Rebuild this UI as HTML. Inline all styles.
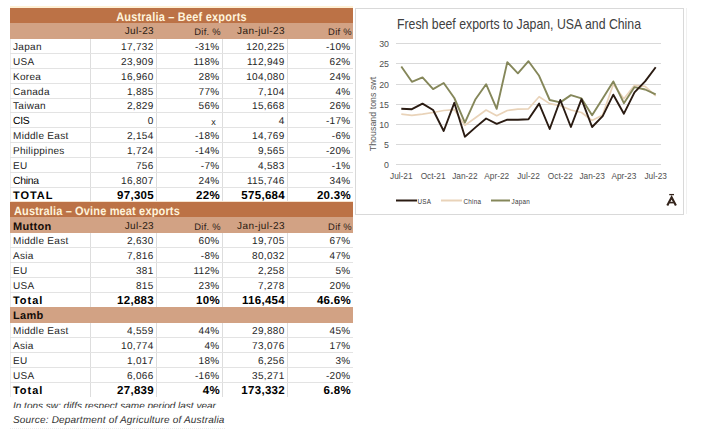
<!DOCTYPE html>
<html><head><meta charset="utf-8"><style>
html,body{margin:0;padding:0}
body{width:706px;height:445px;position:relative;overflow:hidden;background:#fff;font-family:"Liberation Sans",sans-serif}
.t{position:absolute;font-size:10px;line-height:12px;letter-spacing:0.3px;color:#1e1e1e;white-space:nowrap;text-rendering:geometricPrecision}
.c{position:absolute;white-space:nowrap}
</style></head><body>
<div style="position:absolute;left:10px;top:39px;width:1px;height:358px;background:#ececec;"></div>
<div style="position:absolute;left:10px;top:6px;width:343px;height:2px;background:#fff1d6;"></div>
<div style="position:absolute;left:10px;top:8px;width:343px;height:15px;background:#bc7246;"></div>
<div class="t" style="left:10px;top:11px;width:343px;text-align:center;font-weight:bold;font-size:11px;letter-spacing:0.13px;letter-spacing:0.2px;color:#fff4dc;transform:scaleY(1.13);transform-origin:0 2px;">Australia &#8211; Beef exports</div>
<div style="position:absolute;left:10px;top:23px;width:343px;height:16px;background:#d2a284;"></div>
<div class="t" style="left:90px;top:26px;width:64px;text-align:right;color:#2a1a10;letter-spacing:0.35px;">Jul-23</div>
<div class="t" style="left:156px;top:26px;width:65px;text-align:right;color:#2e2018;font-size:9.4px;letter-spacing:0.3px;">Dif. %</div>
<div class="t" style="left:222px;top:26px;width:63px;text-align:right;color:#2a1a10;letter-spacing:0.4px;">Jan-jul-23</div>
<div class="t" style="left:287px;top:26px;width:65px;text-align:right;color:#2e2018;font-size:9.4px;letter-spacing:0.3px;">Dif %</div>
<div style="position:absolute;left:90px;top:39px;width:1px;height:162px;background:#dddddd;"></div>
<div style="position:absolute;left:156px;top:39px;width:1px;height:162px;background:#dddddd;"></div>
<div style="position:absolute;left:222px;top:39px;width:1px;height:162px;background:#dddddd;"></div>
<div style="position:absolute;left:287px;top:39px;width:1px;height:162px;background:#dddddd;"></div>
<div style="position:absolute;left:10px;top:53px;width:343px;height:1px;background:#e3e3e3;"></div>
<div class="t" style="left:13px;top:42px;width:76px;text-align:left;">Japan</div>
<div class="t" style="left:90px;top:42px;width:63.5px;text-align:right;">17,732</div>
<div class="t" style="left:156px;top:42px;width:63.5px;text-align:right;">-31%</div>
<div class="t" style="left:222px;top:42px;width:62.5px;text-align:right;">120,225</div>
<div class="t" style="left:287px;top:42px;width:63.5px;text-align:right;">-10%</div>
<div style="position:absolute;left:10px;top:68px;width:343px;height:1px;background:#e3e3e3;"></div>
<div class="t" style="left:13px;top:57px;width:76px;text-align:left;">USA</div>
<div class="t" style="left:90px;top:57px;width:63.5px;text-align:right;">23,909</div>
<div class="t" style="left:156px;top:57px;width:63.5px;text-align:right;">118%</div>
<div class="t" style="left:222px;top:57px;width:62.5px;text-align:right;">112,949</div>
<div class="t" style="left:287px;top:57px;width:63.5px;text-align:right;">62%</div>
<div style="position:absolute;left:10px;top:83px;width:343px;height:1px;background:#e3e3e3;"></div>
<div class="t" style="left:13px;top:72px;width:76px;text-align:left;">Korea</div>
<div class="t" style="left:90px;top:72px;width:63.5px;text-align:right;">16,960</div>
<div class="t" style="left:156px;top:72px;width:63.5px;text-align:right;">28%</div>
<div class="t" style="left:222px;top:72px;width:62.5px;text-align:right;">104,080</div>
<div class="t" style="left:287px;top:72px;width:63.5px;text-align:right;">24%</div>
<div style="position:absolute;left:10px;top:98px;width:343px;height:1px;background:#e3e3e3;"></div>
<div class="t" style="left:13px;top:87px;width:76px;text-align:left;">Canada</div>
<div class="t" style="left:90px;top:87px;width:63.5px;text-align:right;">1,885</div>
<div class="t" style="left:156px;top:87px;width:63.5px;text-align:right;">77%</div>
<div class="t" style="left:222px;top:87px;width:62.5px;text-align:right;">7,104</div>
<div class="t" style="left:287px;top:87px;width:63.5px;text-align:right;">4%</div>
<div style="position:absolute;left:10px;top:112px;width:343px;height:1px;background:#e3e3e3;"></div>
<div class="t" style="left:13px;top:101px;width:76px;text-align:left;">Taiwan</div>
<div class="t" style="left:90px;top:101px;width:63.5px;text-align:right;">2,829</div>
<div class="t" style="left:156px;top:101px;width:63.5px;text-align:right;">56%</div>
<div class="t" style="left:222px;top:101px;width:62.5px;text-align:right;">15,668</div>
<div class="t" style="left:287px;top:101px;width:63.5px;text-align:right;">26%</div>
<div style="position:absolute;left:10px;top:127px;width:343px;height:1px;background:#e3e3e3;"></div>
<div class="t" style="left:13px;top:116px;width:76px;text-align:left;font-size:10.4px;letter-spacing:-0.3px;color:#000;">CIS</div>
<div class="t" style="left:90px;top:116px;width:63.5px;text-align:right;">0</div>
<div class="t" style="left:156px;top:116px;width:60px;text-align:right;font-size:9px;">x</div>
<div class="t" style="left:222px;top:116px;width:62.5px;text-align:right;">4</div>
<div class="t" style="left:287px;top:116px;width:63.5px;text-align:right;">-17%</div>
<div style="position:absolute;left:10px;top:142px;width:343px;height:1px;background:#e3e3e3;"></div>
<div class="t" style="left:13px;top:131px;width:76px;text-align:left;">Middle East</div>
<div class="t" style="left:90px;top:131px;width:63.5px;text-align:right;">2,154</div>
<div class="t" style="left:156px;top:131px;width:63.5px;text-align:right;">-18%</div>
<div class="t" style="left:222px;top:131px;width:62.5px;text-align:right;">14,769</div>
<div class="t" style="left:287px;top:131px;width:63.5px;text-align:right;">-6%</div>
<div style="position:absolute;left:10px;top:157px;width:343px;height:1px;background:#e3e3e3;"></div>
<div class="t" style="left:13px;top:146px;width:76px;text-align:left;">Philippines</div>
<div class="t" style="left:90px;top:146px;width:63.5px;text-align:right;">1,724</div>
<div class="t" style="left:156px;top:146px;width:63.5px;text-align:right;">-14%</div>
<div class="t" style="left:222px;top:146px;width:62.5px;text-align:right;">9,565</div>
<div class="t" style="left:287px;top:146px;width:63.5px;text-align:right;">-20%</div>
<div style="position:absolute;left:10px;top:172px;width:343px;height:1px;background:#e3e3e3;"></div>
<div class="t" style="left:13px;top:161px;width:76px;text-align:left;">EU</div>
<div class="t" style="left:90px;top:161px;width:63.5px;text-align:right;">756</div>
<div class="t" style="left:156px;top:161px;width:63.5px;text-align:right;">-7%</div>
<div class="t" style="left:222px;top:161px;width:62.5px;text-align:right;">4,583</div>
<div class="t" style="left:287px;top:161px;width:63.5px;text-align:right;">-1%</div>
<div style="position:absolute;left:10px;top:187px;width:343px;height:1px;background:#e3e3e3;"></div>
<div class="t" style="left:13px;top:176px;width:76px;text-align:left;font-size:10.4px;letter-spacing:-0.3px;color:#000;">China</div>
<div class="t" style="left:90px;top:176px;width:63.5px;text-align:right;">16,807</div>
<div class="t" style="left:156px;top:176px;width:63.5px;text-align:right;">24%</div>
<div class="t" style="left:222px;top:176px;width:62.5px;text-align:right;">115,746</div>
<div class="t" style="left:287px;top:176px;width:63.5px;text-align:right;">34%</div>
<div class="t" style="left:13px;top:190px;width:76px;text-align:left;font-weight:bold;font-size:11px;letter-spacing:0.3px;letter-spacing:0.95px;color:#000;">TOTAL</div>
<div class="t" style="left:90px;top:190px;width:64px;text-align:right;font-weight:bold;font-size:11.5px;letter-spacing:0.3px;color:#000;">97,305</div>
<div class="t" style="left:156px;top:190px;width:64px;text-align:right;font-weight:bold;font-size:11.5px;letter-spacing:0.3px;color:#000;">22%</div>
<div class="t" style="left:222px;top:190px;width:63px;text-align:right;font-weight:bold;font-size:11.5px;letter-spacing:0.3px;color:#000;">575,684</div>
<div class="t" style="left:287px;top:190px;width:64px;text-align:right;font-weight:bold;font-size:11.5px;letter-spacing:0.3px;color:#000;">20.3%</div>
<div style="position:absolute;left:10px;top:201px;width:343px;height:1px;background:#f6e3cf;"></div>
<div style="position:absolute;left:10px;top:202px;width:343px;height:15px;background:#bc7246;"></div>
<div class="t" style="left:14px;top:205px;width:300px;text-align:left;font-weight:bold;font-size:11px;letter-spacing:0.13px;letter-spacing:0.15px;color:#fff4dc;transform:scaleY(1.1);transform-origin:0 2px;">Australia &#8211; Ovine meat exports</div>
<div style="position:absolute;left:10px;top:217px;width:343px;height:16px;background:#d2a284;"></div>
<div class="t" style="left:13px;top:221px;width:76px;text-align:left;font-weight:bold;font-size:11px;letter-spacing:0.3px;color:#140c08;">Mutton</div>
<div class="t" style="left:90px;top:221px;width:64px;text-align:right;color:#2a1a10;letter-spacing:0.35px;">Jul-23</div>
<div class="t" style="left:156px;top:221px;width:65px;text-align:right;color:#2e2018;font-size:9.4px;letter-spacing:0.3px;">Dif. %</div>
<div class="t" style="left:222px;top:221px;width:63px;text-align:right;color:#2a1a10;letter-spacing:0.4px;">Jan-jul-23</div>
<div class="t" style="left:287px;top:221px;width:65px;text-align:right;color:#2e2018;font-size:9.4px;letter-spacing:0.3px;">Dif %</div>
<div style="position:absolute;left:90px;top:233px;width:1px;height:74px;background:#dddddd;"></div>
<div style="position:absolute;left:156px;top:233px;width:1px;height:74px;background:#dddddd;"></div>
<div style="position:absolute;left:222px;top:233px;width:1px;height:74px;background:#dddddd;"></div>
<div style="position:absolute;left:287px;top:233px;width:1px;height:74px;background:#dddddd;"></div>
<div style="position:absolute;left:10px;top:247px;width:343px;height:1px;background:#e3e3e3;"></div>
<div class="t" style="left:13px;top:236px;width:76px;text-align:left;">Middle East</div>
<div class="t" style="left:90px;top:236px;width:63.5px;text-align:right;">2,630</div>
<div class="t" style="left:156px;top:236px;width:63.5px;text-align:right;">60%</div>
<div class="t" style="left:222px;top:236px;width:62.5px;text-align:right;">19,705</div>
<div class="t" style="left:287px;top:236px;width:63.5px;text-align:right;">67%</div>
<div style="position:absolute;left:10px;top:262px;width:343px;height:1px;background:#e3e3e3;"></div>
<div class="t" style="left:13px;top:251px;width:76px;text-align:left;">Asia</div>
<div class="t" style="left:90px;top:251px;width:63.5px;text-align:right;">7,816</div>
<div class="t" style="left:156px;top:251px;width:63.5px;text-align:right;">-8%</div>
<div class="t" style="left:222px;top:251px;width:62.5px;text-align:right;">80,032</div>
<div class="t" style="left:287px;top:251px;width:63.5px;text-align:right;">47%</div>
<div style="position:absolute;left:10px;top:277px;width:343px;height:1px;background:#e3e3e3;"></div>
<div class="t" style="left:13px;top:266px;width:76px;text-align:left;">EU</div>
<div class="t" style="left:90px;top:266px;width:63.5px;text-align:right;">381</div>
<div class="t" style="left:156px;top:266px;width:63.5px;text-align:right;">112%</div>
<div class="t" style="left:222px;top:266px;width:62.5px;text-align:right;">2,258</div>
<div class="t" style="left:287px;top:266px;width:63.5px;text-align:right;">5%</div>
<div style="position:absolute;left:10px;top:292px;width:343px;height:1px;background:#e3e3e3;"></div>
<div class="t" style="left:13px;top:281px;width:76px;text-align:left;">USA</div>
<div class="t" style="left:90px;top:281px;width:63.5px;text-align:right;">815</div>
<div class="t" style="left:156px;top:281px;width:63.5px;text-align:right;">23%</div>
<div class="t" style="left:222px;top:281px;width:62.5px;text-align:right;">7,278</div>
<div class="t" style="left:287px;top:281px;width:63.5px;text-align:right;">20%</div>
<div class="t" style="left:13px;top:295px;width:76px;text-align:left;font-weight:bold;font-size:11px;letter-spacing:0.3px;letter-spacing:0.95px;color:#000;">Total</div>
<div class="t" style="left:90px;top:295px;width:64px;text-align:right;font-weight:bold;font-size:11.5px;letter-spacing:0.3px;color:#000;">12,883</div>
<div class="t" style="left:156px;top:295px;width:64px;text-align:right;font-weight:bold;font-size:11.5px;letter-spacing:0.3px;color:#000;">10%</div>
<div class="t" style="left:222px;top:295px;width:63px;text-align:right;font-weight:bold;font-size:11.5px;letter-spacing:0.3px;color:#000;">116,454</div>
<div class="t" style="left:287px;top:295px;width:64px;text-align:right;font-weight:bold;font-size:11.5px;letter-spacing:0.3px;color:#000;">46.6%</div>
<div style="position:absolute;left:10px;top:307px;width:343px;height:16px;background:#d2a284;"></div>
<div class="t" style="left:13px;top:310px;width:76px;text-align:left;font-weight:bold;font-size:11px;letter-spacing:0.3px;color:#140c08;">Lamb</div>
<div style="position:absolute;left:90px;top:323px;width:1px;height:74px;background:#dddddd;"></div>
<div style="position:absolute;left:156px;top:323px;width:1px;height:74px;background:#dddddd;"></div>
<div style="position:absolute;left:222px;top:323px;width:1px;height:74px;background:#dddddd;"></div>
<div style="position:absolute;left:287px;top:323px;width:1px;height:74px;background:#dddddd;"></div>
<div style="position:absolute;left:10px;top:337px;width:343px;height:1px;background:#e3e3e3;"></div>
<div class="t" style="left:13px;top:326px;width:76px;text-align:left;">Middle East</div>
<div class="t" style="left:90px;top:326px;width:63.5px;text-align:right;">4,559</div>
<div class="t" style="left:156px;top:326px;width:63.5px;text-align:right;">44%</div>
<div class="t" style="left:222px;top:326px;width:62.5px;text-align:right;">29,880</div>
<div class="t" style="left:287px;top:326px;width:63.5px;text-align:right;">45%</div>
<div style="position:absolute;left:10px;top:352px;width:343px;height:1px;background:#e3e3e3;"></div>
<div class="t" style="left:13px;top:341px;width:76px;text-align:left;">Asia</div>
<div class="t" style="left:90px;top:341px;width:63.5px;text-align:right;">10,774</div>
<div class="t" style="left:156px;top:341px;width:63.5px;text-align:right;">4%</div>
<div class="t" style="left:222px;top:341px;width:62.5px;text-align:right;">73,076</div>
<div class="t" style="left:287px;top:341px;width:63.5px;text-align:right;">17%</div>
<div style="position:absolute;left:10px;top:367px;width:343px;height:1px;background:#e3e3e3;"></div>
<div class="t" style="left:13px;top:356px;width:76px;text-align:left;">EU</div>
<div class="t" style="left:90px;top:356px;width:63.5px;text-align:right;">1,017</div>
<div class="t" style="left:156px;top:356px;width:63.5px;text-align:right;">18%</div>
<div class="t" style="left:222px;top:356px;width:62.5px;text-align:right;">6,256</div>
<div class="t" style="left:287px;top:356px;width:63.5px;text-align:right;">3%</div>
<div style="position:absolute;left:10px;top:382px;width:343px;height:1px;background:#e3e3e3;"></div>
<div class="t" style="left:13px;top:371px;width:76px;text-align:left;">USA</div>
<div class="t" style="left:90px;top:371px;width:63.5px;text-align:right;">6,066</div>
<div class="t" style="left:156px;top:371px;width:63.5px;text-align:right;">-16%</div>
<div class="t" style="left:222px;top:371px;width:62.5px;text-align:right;">35,271</div>
<div class="t" style="left:287px;top:371px;width:63.5px;text-align:right;">-20%</div>
<div class="t" style="left:13px;top:385px;width:76px;text-align:left;font-weight:bold;font-size:11px;letter-spacing:0.3px;letter-spacing:0.95px;color:#000;">Total</div>
<div class="t" style="left:90px;top:385px;width:64px;text-align:right;font-weight:bold;font-size:11.5px;letter-spacing:0.3px;color:#000;">27,839</div>
<div class="t" style="left:156px;top:385px;width:64px;text-align:right;font-weight:bold;font-size:11.5px;letter-spacing:0.3px;color:#000;">4%</div>
<div class="t" style="left:222px;top:385px;width:63px;text-align:right;font-weight:bold;font-size:11.5px;letter-spacing:0.3px;color:#000;">173,332</div>
<div class="t" style="left:287px;top:385px;width:64px;text-align:right;font-weight:bold;font-size:11.5px;letter-spacing:0.3px;color:#000;">6.8%</div>
<div style="position:absolute;left:10px;top:397px;width:300px;height:10.6px;overflow:hidden"><div class="t" style="left:3px;top:4px;font-style:italic;color:#333;letter-spacing:0;">In tons sw; diffs respect same period last year</div></div>
<div class="t" style="left:13px;top:415px;width:300px;text-align:left;font-style:italic;color:#333;letter-spacing:0.18px;">Source: Department of Agriculture of Australia</div>
<div style="position:absolute;left:10px;top:428px;width:215px;height:1px;background:transparent;border-top:1px dotted #ececec;height:0"></div>
<svg width="706" height="445" style="position:absolute;left:0;top:0">
<rect x="355.5" y="8.5" width="328" height="206" fill="none" stroke="#d9d9d9" stroke-width="1"/><line x1="686.5" y1="8" x2="686.5" y2="214" stroke="#f0f0f0" stroke-width="1"/>
<line x1="396" y1="164.5" x2="661" y2="164.5" stroke="#d9d9d9" stroke-width="1"/>
<line x1="396" y1="144.5" x2="661" y2="144.5" stroke="#d9d9d9" stroke-width="1"/>
<line x1="396" y1="124.5" x2="661" y2="124.5" stroke="#d9d9d9" stroke-width="1"/>
<line x1="396" y1="104.5" x2="661" y2="104.5" stroke="#d9d9d9" stroke-width="1"/>
<line x1="396" y1="84.5" x2="661" y2="84.5" stroke="#d9d9d9" stroke-width="1"/>
<line x1="396" y1="63.5" x2="661" y2="63.5" stroke="#d9d9d9" stroke-width="1"/>
<line x1="396" y1="43.5" x2="661" y2="43.5" stroke="#d9d9d9" stroke-width="1"/>
<polyline points="401.3,114.1 411.9,115.3 422.5,114.1 433.1,112.5 443.7,110.5 454.3,109.6 464.9,125.4 475.5,117.7 486.1,110.0 496.7,115.7 507.3,110.5 517.9,109.2 528.5,108.8 539.1,96.7 549.7,103.6 560.3,105.6 570.9,110.0 581.5,112.5 592.1,120.5 602.7,114.9 613.3,84.2 623.9,98.8 634.5,85.4 645.1,86.3 655.7,95.9" fill="none" stroke="#e9d3b9" stroke-width="1.7" stroke-linejoin="round"/>
<polyline points="401.3,66.5 411.9,81.8 422.5,77.4 433.1,89.1 443.7,83.0 454.3,98.0 464.9,122.6 475.5,99.2 486.1,84.2 496.7,108.8 507.3,62.1 517.9,73.3 528.5,61.2 539.1,75.8 549.7,100.0 560.3,102.4 570.9,95.1 581.5,98.4 592.1,115.3 602.7,98.4 613.3,81.4 623.9,103.2 634.5,87.1 645.1,89.5 655.7,94.3" fill="none" stroke="#85875a" stroke-width="1.9" stroke-linejoin="round"/>
<polyline points="401.3,108.8 411.9,109.2 422.5,103.6 433.1,110.0 443.7,131.0 454.3,102.8 464.9,136.7 475.5,127.4 486.1,118.5 496.7,123.8 507.3,119.7 517.9,119.7 528.5,119.3 539.1,103.6 549.7,129.0 560.3,100.0 570.9,127.0 581.5,99.2 592.1,127.0 602.7,116.1 613.3,94.7 623.9,113.7 634.5,92.3 645.1,81.4 655.7,67.3" fill="none" stroke="#2a1b12" stroke-width="1.9" stroke-linejoin="round"/>
<line x1="396" y1="200.5" x2="417" y2="200.5" stroke="#2a1b12" stroke-width="2"/>
<line x1="441" y1="200.5" x2="462" y2="200.5" stroke="#e9d3b9" stroke-width="2"/>
<line x1="491" y1="200.5" x2="510" y2="200.5" stroke="#85875a" stroke-width="2"/>
</svg>
<div class="c" style="left:397px;top:17.2px;font-size:12.3px;line-height:16px;color:#404040;transform:scaleY(1.13);transform-origin:0 12px;">Fresh beef exports to Japan, USA and China</div>
<div class="c" style="left:360px;width:29px;text-align:right;top:160.2px;font-size:8.8px;line-height:10px;color:#505050;">0</div>
<div class="c" style="left:360px;width:29px;text-align:right;top:140.0px;font-size:8.8px;line-height:10px;color:#505050;">5</div>
<div class="c" style="left:360px;width:29px;text-align:right;top:119.9px;font-size:8.8px;line-height:10px;color:#505050;">10</div>
<div class="c" style="left:360px;width:29px;text-align:right;top:99.7px;font-size:8.8px;line-height:10px;color:#505050;">15</div>
<div class="c" style="left:360px;width:29px;text-align:right;top:79.5px;font-size:8.8px;line-height:10px;color:#505050;">20</div>
<div class="c" style="left:360px;width:29px;text-align:right;top:59.4px;font-size:8.8px;line-height:10px;color:#505050;">25</div>
<div class="c" style="left:360px;width:29px;text-align:right;top:39.2px;font-size:8.8px;line-height:10px;color:#505050;">30</div>
<div class="c" style="left:381.3px;width:40px;text-align:center;top:171.3px;font-size:8.3px;line-height:10px;color:#505050;">Jul-21</div>
<div class="c" style="left:413.1px;width:40px;text-align:center;top:171.3px;font-size:8.3px;line-height:10px;color:#505050;">Oct-21</div>
<div class="c" style="left:444.9px;width:40px;text-align:center;top:171.3px;font-size:8.3px;line-height:10px;color:#505050;">Jan-22</div>
<div class="c" style="left:476.7px;width:40px;text-align:center;top:171.3px;font-size:8.3px;line-height:10px;color:#505050;">Apr-22</div>
<div class="c" style="left:508.5px;width:40px;text-align:center;top:171.3px;font-size:8.3px;line-height:10px;color:#505050;">Jul-22</div>
<div class="c" style="left:540.3px;width:40px;text-align:center;top:171.3px;font-size:8.3px;line-height:10px;color:#505050;">Oct-22</div>
<div class="c" style="left:572.1px;width:40px;text-align:center;top:171.3px;font-size:8.3px;line-height:10px;color:#505050;">Jan-23</div>
<div class="c" style="left:603.9px;width:40px;text-align:center;top:171.3px;font-size:8.3px;line-height:10px;color:#505050;">Apr-23</div>
<div class="c" style="left:635.7px;width:40px;text-align:center;top:171.3px;font-size:8.3px;line-height:10px;color:#505050;">Jul-23</div>
<div class="c" style="left:373.2px;top:114px;font-size:8.9px;line-height:10px;color:#595959;transform:translate(-50%,-50%) rotate(-90deg);">Thousand tons swt</div>
<div class="c" style="left:417.5px;top:197.6px;font-size:6.3px;letter-spacing:0.25px;line-height:8px;color:#383838;">USA</div>
<div class="c" style="left:463.5px;top:197.6px;font-size:6.3px;letter-spacing:0.25px;line-height:8px;color:#383838;">China</div>
<div class="c" style="left:511.5px;top:197.6px;font-size:6.3px;letter-spacing:0.25px;line-height:8px;color:#383838;">Japan</div>
<svg width="706" height="445" style="position:absolute;left:0;top:0"><path d="M667.3,205.6 L671.6,197.2 L675.9,205.6" fill="none" stroke="#33231a" stroke-width="2.1" stroke-linejoin="miter"/><path d="M669.4,202.6 H673.8" stroke="#33231a" stroke-width="1.6"/><path d="M669.2,194.6 H674" stroke="#33231a" stroke-width="1.3"/></svg>
</body></html>
